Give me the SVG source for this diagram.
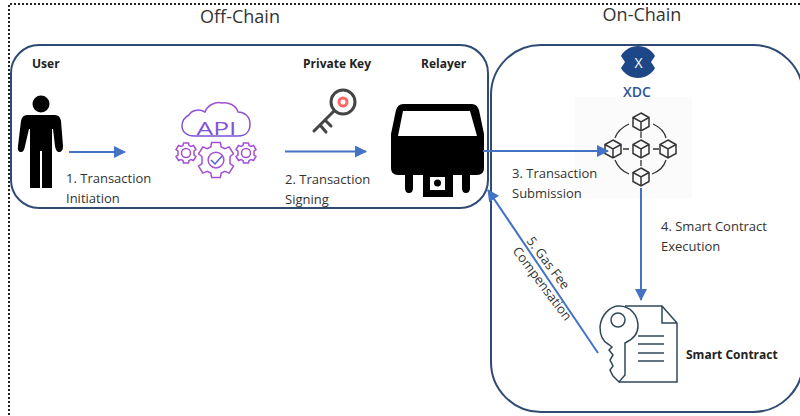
<svg xmlns="http://www.w3.org/2000/svg" width="800" height="416" viewBox="0 0 800 416">
<style>
text{font-family:"Open Sans","Noto Sans","Liberation Sans",sans-serif;fill:#333}
.t{font-size:18px}
.b{font-size:12px;font-weight:700;fill:#222}
.l{font-size:13px}
.box{fill:none;stroke:#2f4a73;stroke-width:2}
.c{stroke:#4472c4;stroke-width:2;fill:none}
.cube{fill:none;stroke:#333;stroke-width:1.500}
.net{fill:none;stroke:#333;stroke-width:1.300}
.g{fill:none;stroke:url(#api);stroke-width:1.500}
.sc{fill:none;stroke:#2f4858;stroke-width:1.500}
</style>
<defs>
<linearGradient id="api" gradientUnits="userSpaceOnUse" x1="216" y1="100" x2="216" y2="180"><stop offset="0" stop-color="#a44fd0"/><stop offset="1" stop-color="#3f5fdc"/></linearGradient>
<marker id="ah" markerUnits="userSpaceOnUse" markerWidth="12" markerHeight="12" refX="11" refY="6" orient="auto"><path d="M0 0L12 6L0 12Z" fill="#4472c4"/></marker>
<g id="cb"><path class="cube" d="M0-9L8-4.500V4.500L0 9L-8 4.500V-4.500ZM-8-4.500L0 0L8-4.500M0 0V9"/></g>
<g id="gear"><circle class="g" r="4.500" vector-effect="non-scaling-stroke"/><path class="g" vector-effect="non-scaling-stroke" d="M-2.500-10H2.500L3-7.500L5-6.500L7.500-7.500L10-3.500L8-2V2L10 3.500L7.500 7.500L5 6.500L3 7.500L2.500 10H-2.500L-3 7.500L-5 6.500L-7.500 7.500L-10 3.500L-8 2V-2L-10-3.500L-7.500-7.500L-5-6.500L-3-7.500Z"/></g>
</defs>
<rect width="800" height="416" fill="#fff"/>
<path d="M800 4H9V416" fill="none" stroke="#222" stroke-width="2" stroke-dasharray="2 2"/>
<text class="t" x="240" y="23" text-anchor="middle">Off-Chain</text>
<text class="t" x="642" y="21" text-anchor="middle">On-Chain</text>
<g id="off-chain"><rect class="box" x="11" y="45" width="477" height="163" rx="28"/></g>
<g id="on-chain"><rect class="box" x="491" y="45" width="312" height="367" rx="50"/></g>
<rect x="575" y="97" width="117" height="101" fill="#fbfbfb"/>
<g id="user">
<text class="b" x="32" y="68">User</text>
<circle cx="41" cy="104" r="8.500" fill="#000"/>
<path fill="#000" d="M27 115H55Q60 115 61 121L63 146Q63 152 59 152Q56 152 55 146L53 129H52V188H42V151H40V188H30V129H29L25 146Q24 152 21 152Q17 152 18 146L21 121Q22 115 27 115Z"/>
</g>
<g id="api-node">
<path class="g" d="M194 136H238C247 136 250 130 250 124C250 116 244 112 238 112C236 105 228 102 222 103C215 101 207 106 205 112C198 108 191 111 189 115C183 118 182 123 182 126C182 132 187 136 194 136Z"/>
<text x="216.500" y="135" text-anchor="middle" font-size="19" textLength="40" lengthAdjust="spacingAndGlyphs" style="fill:url(#api);font-weight:400">API</text>
<use href="#gear" transform="translate(186 153)"/>
<use href="#gear" transform="translate(216 160) scale(1.750)"/>
<use href="#gear" transform="translate(246 153)"/>
<path class="g" d="M211 160L215 164L222 156"/>
</g>
<g id="private-key">
<text class="b" x="303" y="68">Private Key</text>
<circle cx="343" cy="102" r="12" fill="#fff" stroke="#444" stroke-width="3"/>
<circle cx="343" cy="102" r="4" fill="#fff" stroke="#f66" stroke-width="3"/>
<path d="M334 111L314 131M320 125L326 132M325 120L331 126" fill="none" stroke="#444" stroke-width="3" stroke-linecap="round"/>
</g>
<g id="relayer">
<text class="b" x="421" y="68">Relayer</text>
<path fill="#000" fill-rule="evenodd" d="M403 104H472Q477 104 479 110L484 134V168Q484 175 477 175H470V188Q470 193 466 193Q462 193 462 188V175H453V197H423V175H413V188Q413 193 409 193Q405 193 405 188V175H398Q391 175 391 168V134L396 110Q398 104 403 104ZM403 111L398 136H477L470 111ZM430 177V190H445V177Z"/>
<circle cx="437.500" cy="183" r="3.500" fill="#000"/>
</g>
<g id="xdc">
<path fill="#1e4788" d="M638 46C645 46 652 50 655 56L651 62L655 68C652 74 645 78 638 78C631 78 624 74 621 68L625 62L621 56C624 50 631 46 638 46Z"/>
<text x="638.500" y="67.500" text-anchor="middle" font-size="14" style="fill:#fff">X</text>
<text x="637" y="97" text-anchor="middle" font-size="14" font-weight="600" style="fill:#2f5597">XDC</text>
</g>
<g id="network">
<use href="#cb" x="641" y="122"/><use href="#cb" x="613" y="149"/><use href="#cb" x="641" y="149"/><use href="#cb" x="668" y="149"/><use href="#cb" x="641" y="177"/>
<path class="net" d="M629 124Q618 129 615 138M653 124Q664 129 666 138M615 160Q619 170 629 174M666 160Q663 170 652 174M623 149H629M653 149H659M641 132V138M641 160V166"/>
</g>
<g id="smart-contract">
<path class="sc" d="M625 306H662L677 323V382H619M662 306V323H677"/>
<path class="sc" d="M608 344C601 340 600 332 600 327C601 314 611 306 619 306C631 306 638 316 638 326C638 334 634 339 625 343V375L619 382L613 376L610 370L613 366L610 360L613 355L609 350L612 347Z" fill="#fff"/>
<circle class="sc" cx="618" cy="320" r="7"/>
<path class="sc" d="M638 336H664M638 344H664M638 353H664M638 361H664"/>
<text class="b" x="686" y="359">Smart Contract</text>
</g>
<g id="connectors">
<path class="c" d="M69 152H125" marker-end="url(#ah)"/>
<path class="c" d="M285 151.500H366" marker-end="url(#ah)"/>
<path class="c" d="M483 151H608" marker-end="url(#ah)"/>
<path class="c" d="M641 188V300" marker-end="url(#ah)"/>
<path class="c" d="M598 353L488 190" marker-end="url(#ah)"/>
</g>
<text class="l" x="66" y="183">1. Transaction</text>
<text class="l" x="66" y="203">Initiation</text>
<text class="l" x="285" y="184">2. Transaction</text>
<text class="l" x="285" y="204">Signing</text>
<text class="l" x="512" y="178">3. Transaction</text>
<text class="l" x="512" y="198">Submission</text>
<text class="l" x="661" y="231">4. Smart Contract</text>
<text class="l" x="661" y="251">Execution</text>
<text class="l" transform="translate(526 241) rotate(53)">5. Gas Fee</text>
<text class="l" transform="translate(512 251) rotate(53)">Compensation</text>
</svg>
